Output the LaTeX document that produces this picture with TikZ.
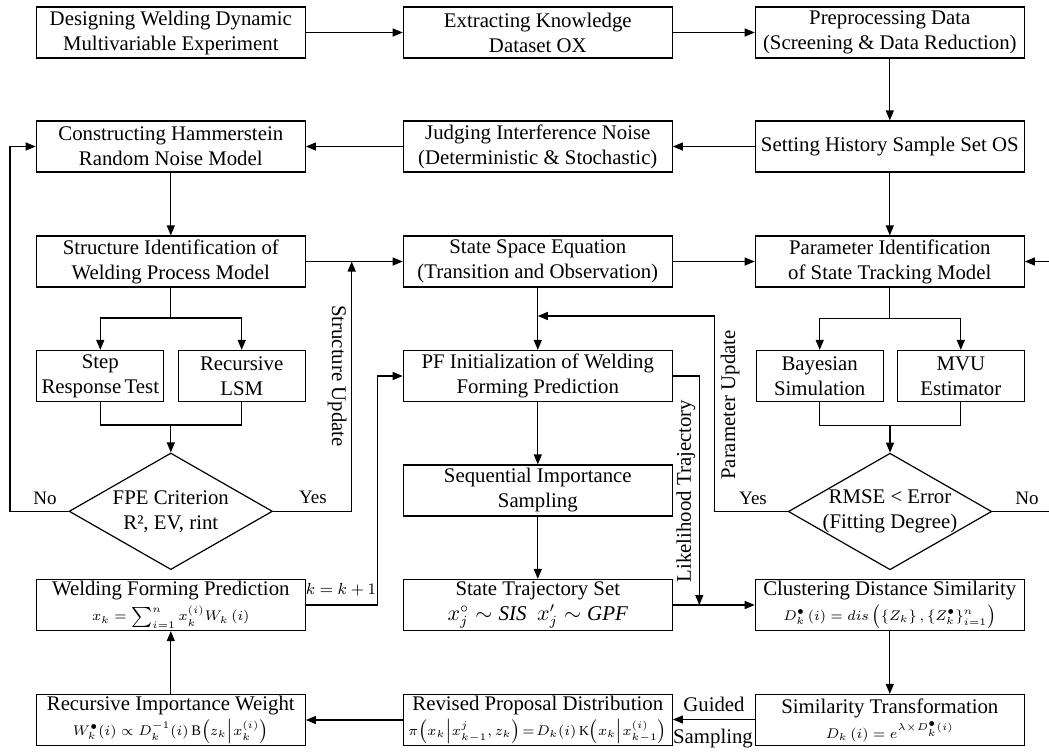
\documentclass[tikz,border=0pt]{standalone}
\usepackage{fontspec}
\setmainfont{Liberation Serif}
\usetikzlibrary{arrows.meta,shapes.geometric}
\tikzset{
  box/.style={draw, line width=0.6pt, minimum width=134.5pt, minimum height=25.5pt, inner sep=0pt, align=center, font=\fontsize{10.4}{12.5}\selectfont},
  sbox/.style={box, minimum width=63.5pt},
  dia/.style={draw, line width=0.6pt, diamond, minimum width=101.7pt, minimum height=58.3pt, inner sep=0pt},
  txt/.style={inner sep=0pt, align=center, font=\fontsize{10.4}{12.5}\selectfont},
  lbl/.style={inner sep=0pt, font=\fontsize{9.5}{11}\selectfont},
  ln/.style={line width=0.6pt},
  arr/.style={ln, -{Triangle[length=5pt,width=4pt]}}
}
\newcommand{\fsm}{\fontsize{7.3}{9}\selectfont}
\begin{document}
\begin{tikzpicture}[x=0.5pt,y=-0.5pt]
\useasboundingbox (0,0) rectangle (1049,751);
% row 1
\node[box] (b1) at (170.8,32.5) {Designing Welding Dynamic\\Multivariable Experiment};
\node[box] (b2) at (537.8,32.5) {Extracting Knowledge\\Dataset OX};
\node[box] (b3) at (889.8,32.5) {Preprocessing Data\\(Screening \& Data Reduction)};
% row 2
\node[box] (b4) at (170.8,146.5) {Constructing Hammerstein\\Random Noise Model};
\node[box] (b5) at (537.8,146.5) {Judging Interference Noise\\(Deterministic \& Stochastic)};
\node[box] (b6) at (889.8,146.5) {Setting History Sample Set OS};
% row 3
\node[box] (b7) at (170.8,261.5) {Structure Identification of\\Welding Process Model};
\node[box] (b8) at (537.8,261.5) {State Space Equation\\(Transition and Observation)};
\node[box] (b9) at (889.8,261.5) {Parameter Identification\\of State Tracking Model};
% row 4
\node[sbox] (step) at (100.3,376) {Step\\Response\,Test};
\node[sbox] (rec) at (241.7,376) {Recursive\\LSM};
\node[box] (pf) at (537.8,376) {PF Initialization of Welding\\Forming Prediction};
\node[sbox] (bay) at (819.7,376) {Bayesian\\Simulation};
\node[sbox] (mvu) at (960.8,376) {MVU\\Estimator};
% row 5
\node[dia] (fpe) at (170.8,511.3) {};
\node[txt] at (fpe) {FPE Criterion\\R², EV, rint};
\node[box] (sis) at (537.8,490.5) {Sequential Importance\\Sampling};
\node[dia] (rmse) at (890,511.5) {};
\node[txt] at (rmse) {RMSE < Error\\(Fitting Degree)};
% row 6
\node[box] (wfp) at (170.8,605) {Welding Forming Prediction\\{\fsm $x_k=\sum\nolimits_{i=1}^{n}x_k^{(i)}W_k\left(i\right)$}};
\node[box] (sts) at (537.8,605) {State Trajectory Set\\{\fontsize{10.5}{12}\selectfont $x_j^{\circ}\sim \mathit{SIS}\ \ x'_j\sim \mathit{GPF}$}};
\node[box] (cds) at (889.8,605) {Clustering Distance Similarity\\{\fsm $D_k^{\bullet}\left(i\right)=dis\left(\left\{Z_k\right\},\left\{Z_k^{\bullet}\right\}_{i=1}^{n}\right)$}};
% row 7
\node[box] (riw) at (170.8,720) {Recursive Importance Weight\\{\fsm $W_k^{\bullet}\!\left(i\right)\propto D_k^{-1}\!\left(i\right)\mathrm{B}\!\left(z_k\middle|x_k^{(i)}\right)$}};
\node[box] (rpd) at (537.8,720) {Revised Proposal Distribution\\{\fontsize{6.8}{9}\selectfont $\pi\!\left(x_k\middle|x_{k-1}^{j},z_k\right)\!=\!D_k\!\left(i\right)\mathrm{K}\!\left(x_k\middle|x_{k-1}^{(i)}\right)$}};
\node[box] (st) at (889.8,720) {Similarity Transformation\\{\fsm $D_k\left(i\right)=e^{\lambda\times D_k^{\bullet}\left(i\right)}$}};

% coordinates
\coordinate (redge) at (1049,261.5);
\coordinate (nedge) at (1049,511.5);
% row 1/2 flow
\draw[arr] (b1) -- (b2);
\draw[arr] (b2) -- (b3);
\draw[arr] (b3) -- (b6);
\draw[arr] (b6) -- (b5);
\draw[arr] (b5) -- (b4);
\draw[arr] (b4) -- (b7);
\draw[arr] (b6) -- (b9);
% row 3
\draw[arr] (b7) -- (b8);
\draw[arr] (b8) -- (b9);
\draw[arr] (redge) -- (b9);
% left branch
\draw[ln] (b7.south) -- (170.8,318);
\draw[ln] (100.3,318) -- (241.7,318);
\draw[arr] (100.3,318) -- (step.north);
\draw[arr] (241.7,318) -- (rec.north);
\draw[ln] (step.south) -- (100.3,425) -- (241.7,425) -- (rec.south);
\draw[arr] (170.8,425) -- (fpe.north);
% FPE outcomes
\draw[arr] (fpe.west) -- (10,511.3) -- (10,146.5) -- (b4.west);
\draw[arr] (fpe.east) -- (351.7,511.3) -- (351.7,261.5);
\node[lbl] at (45,498) {No};
\node[lbl] at (313,497) {Yes};
\node[txt, rotate=-90] at (337,376) {Structure Update};
% right branch
\draw[ln] (b9.south) -- (889.8,318.3);
\draw[ln] (819.7,318.3) -- (960.8,318.3);
\draw[arr] (819.7,318.3) -- (bay.north);
\draw[arr] (960.8,318.3) -- (mvu.north);
\draw[ln] (bay.south) -- (819.7,425.7) -- (960.8,425.7) -- (mvu.south);
\draw[arr] (890,425.7) -- (rmse.north);
% RMSE outcomes
\draw[ln] (rmse.east) -- (nedge);
\draw[arr] (rmse.west) -- (714.3,511.5) -- (714.3,316) -- (537.8,316);
\node[lbl] at (753,498) {Yes};
\node[lbl] at (1027,498) {No};
\node[txt, rotate=90] at (730,405) {Parameter Update};
% middle column
\draw[arr] (b8) -- (pf);
\draw[arr] (pf) -- (sis);
\draw[arr] (sis) -- (sts);
\draw[arr] (pf.east) -- (699.3,376) -- (699.3,605);
\node[txt, rotate=90] at (686,491) {Likelihood Trajectory};
\draw[arr] (sts) -- (cds);
\draw[arr] (cds) -- (st);
\draw[arr] (st.west |- 0,719.5) -- (rpd.east |- 0,719.5);
\node[lbl, font=\fontsize{10.4}{12}\selectfont] at (714,704) {Guided};
\node[lbl, font=\fontsize{10.4}{12}\selectfont] at (713,739) {Sampling};
\draw[arr] (rpd) -- (riw);
\draw[arr] (riw) -- (wfp);
\draw[arr] (wfp.east) -- (377.7,605) -- (377.7,376) -- (pf.west);
\node[lbl, font=\fontsize{8.3}{10}\selectfont] at (341,590) {$k=k+1$};
\end{tikzpicture}
\end{document}
